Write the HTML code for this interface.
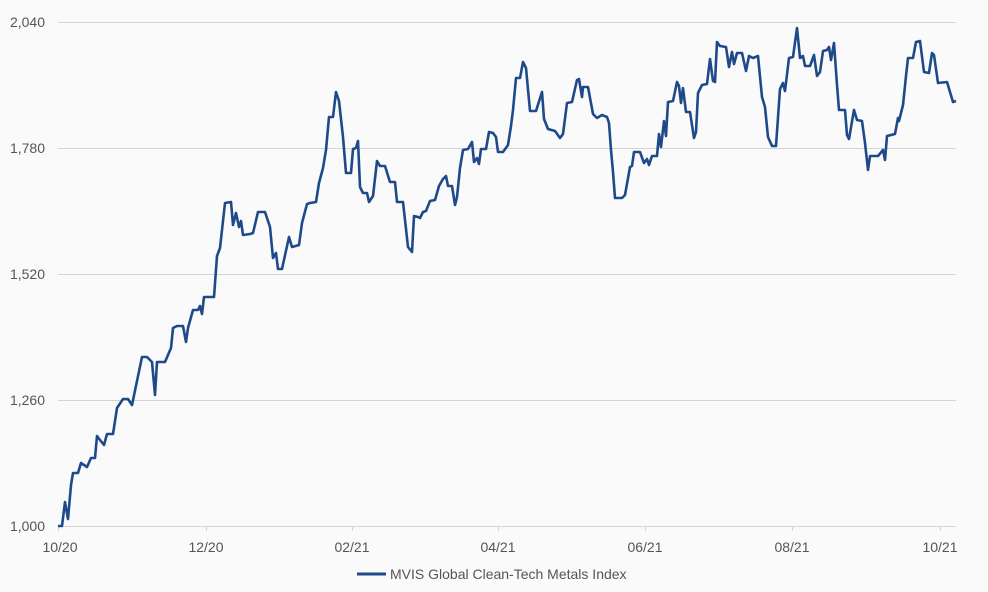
<!DOCTYPE html>
<html><head><meta charset="utf-8"><style>
html,body{margin:0;padding:0;background:#fafafa;}
svg{display:block;font-family:"Liberation Sans",sans-serif;}
</style></head><body>
<svg width="988" height="592" viewBox="0 0 988 592" xmlns="http://www.w3.org/2000/svg">
<rect width="988" height="592" fill="#fafafa"/>
<g stroke="#d4d4d4" stroke-width="1">
<line x1="58" y1="22.5" x2="956" y2="22.5"/>
<line x1="58" y1="148.5" x2="956" y2="148.5"/>
<line x1="58" y1="274.5" x2="956" y2="274.5"/>
<line x1="58" y1="400.5" x2="956" y2="400.5"/>
<line x1="58" y1="526.5" x2="956" y2="526.5"/>
<line x1="206.5" y1="526" x2="206.5" y2="531"/>
<line x1="352.5" y1="526" x2="352.5" y2="531"/>
<line x1="498.5" y1="526" x2="498.5" y2="531"/>
<line x1="645.5" y1="526" x2="645.5" y2="531"/>
<line x1="792.5" y1="526" x2="792.5" y2="531"/>
<line x1="940.5" y1="526" x2="940.5" y2="531"/>
<line x1="58.5" y1="526" x2="58.5" y2="531"/>
</g>
<g fill="#555" font-size="14" text-anchor="end">
<text x="45" y="27">2,040</text>
<text x="45" y="153">1,780</text>
<text x="45" y="279">1,520</text>
<text x="45" y="405">1,260</text>
<text x="45" y="531">1,000</text>
</g>
<g fill="#555" font-size="14" text-anchor="middle">
<text x="60" y="552">10/20</text>
<text x="206" y="552">12/20</text>
<text x="352" y="552">02/21</text>
<text x="498" y="552">04/21</text>
<text x="645" y="552">06/21</text>
<text x="792" y="552">08/21</text>
<text x="940" y="552">10/21</text>
</g>
<polyline fill="none" stroke="#1e4a8a" stroke-width="2.6" stroke-linejoin="round" points="
58,526 62,526 65,502 68,519 71,485 73,473 78,473 81,463 87,467 91,458 95,458 97,436 100,440 104,445 107,434 113,434 117,408 123,399 128,399 132,405 142,357 147,357 152,362 155,395 157,362 165,362 171,348 173,328 177,326 183,326 186,342 188,328 193,310 198,310 200,306 202,314 204,297 214,297 217,256 220,248 225,203 231,202 233,225 236,213 239,227 241,221 243,235 250,234 253,233 258,212 265,212 270,227 273,258 276,253 278,269 282,269 289,237 292,247 299,245 302,223 307,204 310,203 316,202 319,183 323,168 326,150 329,117 333,117 336,92 339,101 343,137 346,173 351,173 353,149 356,148 358,141 360,187 363,193 367,193 369,202 373,196 377,161 380,166 385,166 390,182 395,182 397,202 403,202 405,220 408,247 412,252 414,216 418,217 420,218 423,212 426,211 430,201 435,200 439,186 443,179 446,176 448,186 452,186 455,205 457,197 460,168 463,150 468,149 472,142 474,162 477,158 479,164 481,149 486,149 489,132 493,133 496,137 498,152 503,152 508,145 511,126 513,110 516,78 520,78 523,62 526,68 530,111 536,111 542,92 544,119 548,129 555,131 560,138 563,134 567,103 572,102 577,80 579,79 582,97 583,87 588,87 593,114 597,118 602,115 607,117 609,123 611,150 613,172 615,198 622,198 625,195 630,167 632,166 634,152 640,152 644,163 647,159 649,165 652,156 657,156 659,134 661,147 664,121 666,136 668,102 673,101 677,82 679,86 681,103 683,88 686,112 690,112 694,138 696,132 698,93 702,85 707,84 710,59 713,81 715,82 717,42 720,46 726,47 729,67 732,52 734,64 737,53 742,53 746,71 749,56 753,58 758,56 762,97 765,107 768,137 772,146 776,146 780,89 783,83 785,91 789,58 793,57 797,28 800,58 803,56 805,66 810,66 814,55 817,76 820,72 823,51 827,50 829,47 831,60 834,43 837,85 839,110 845,110 847,135 849,139 854,110 857,120 862,121 865,143 868,170 870,156 878,156 883,150 885,160 887,136 895,134 898,118 899,121 903,105 906,76 908,58 913,58 916,42 920,41 924,72 929,73 932,53 934,55 938,83 947,82 950,92 953,102 956,101"/>
<line x1="357" y1="574" x2="386" y2="574" stroke="#1e4a8a" stroke-width="3"/>
<text x="390" y="579" fill="#555" font-size="14">MVIS Global Clean-Tech Metals Index</text>
</svg>
</body></html>
